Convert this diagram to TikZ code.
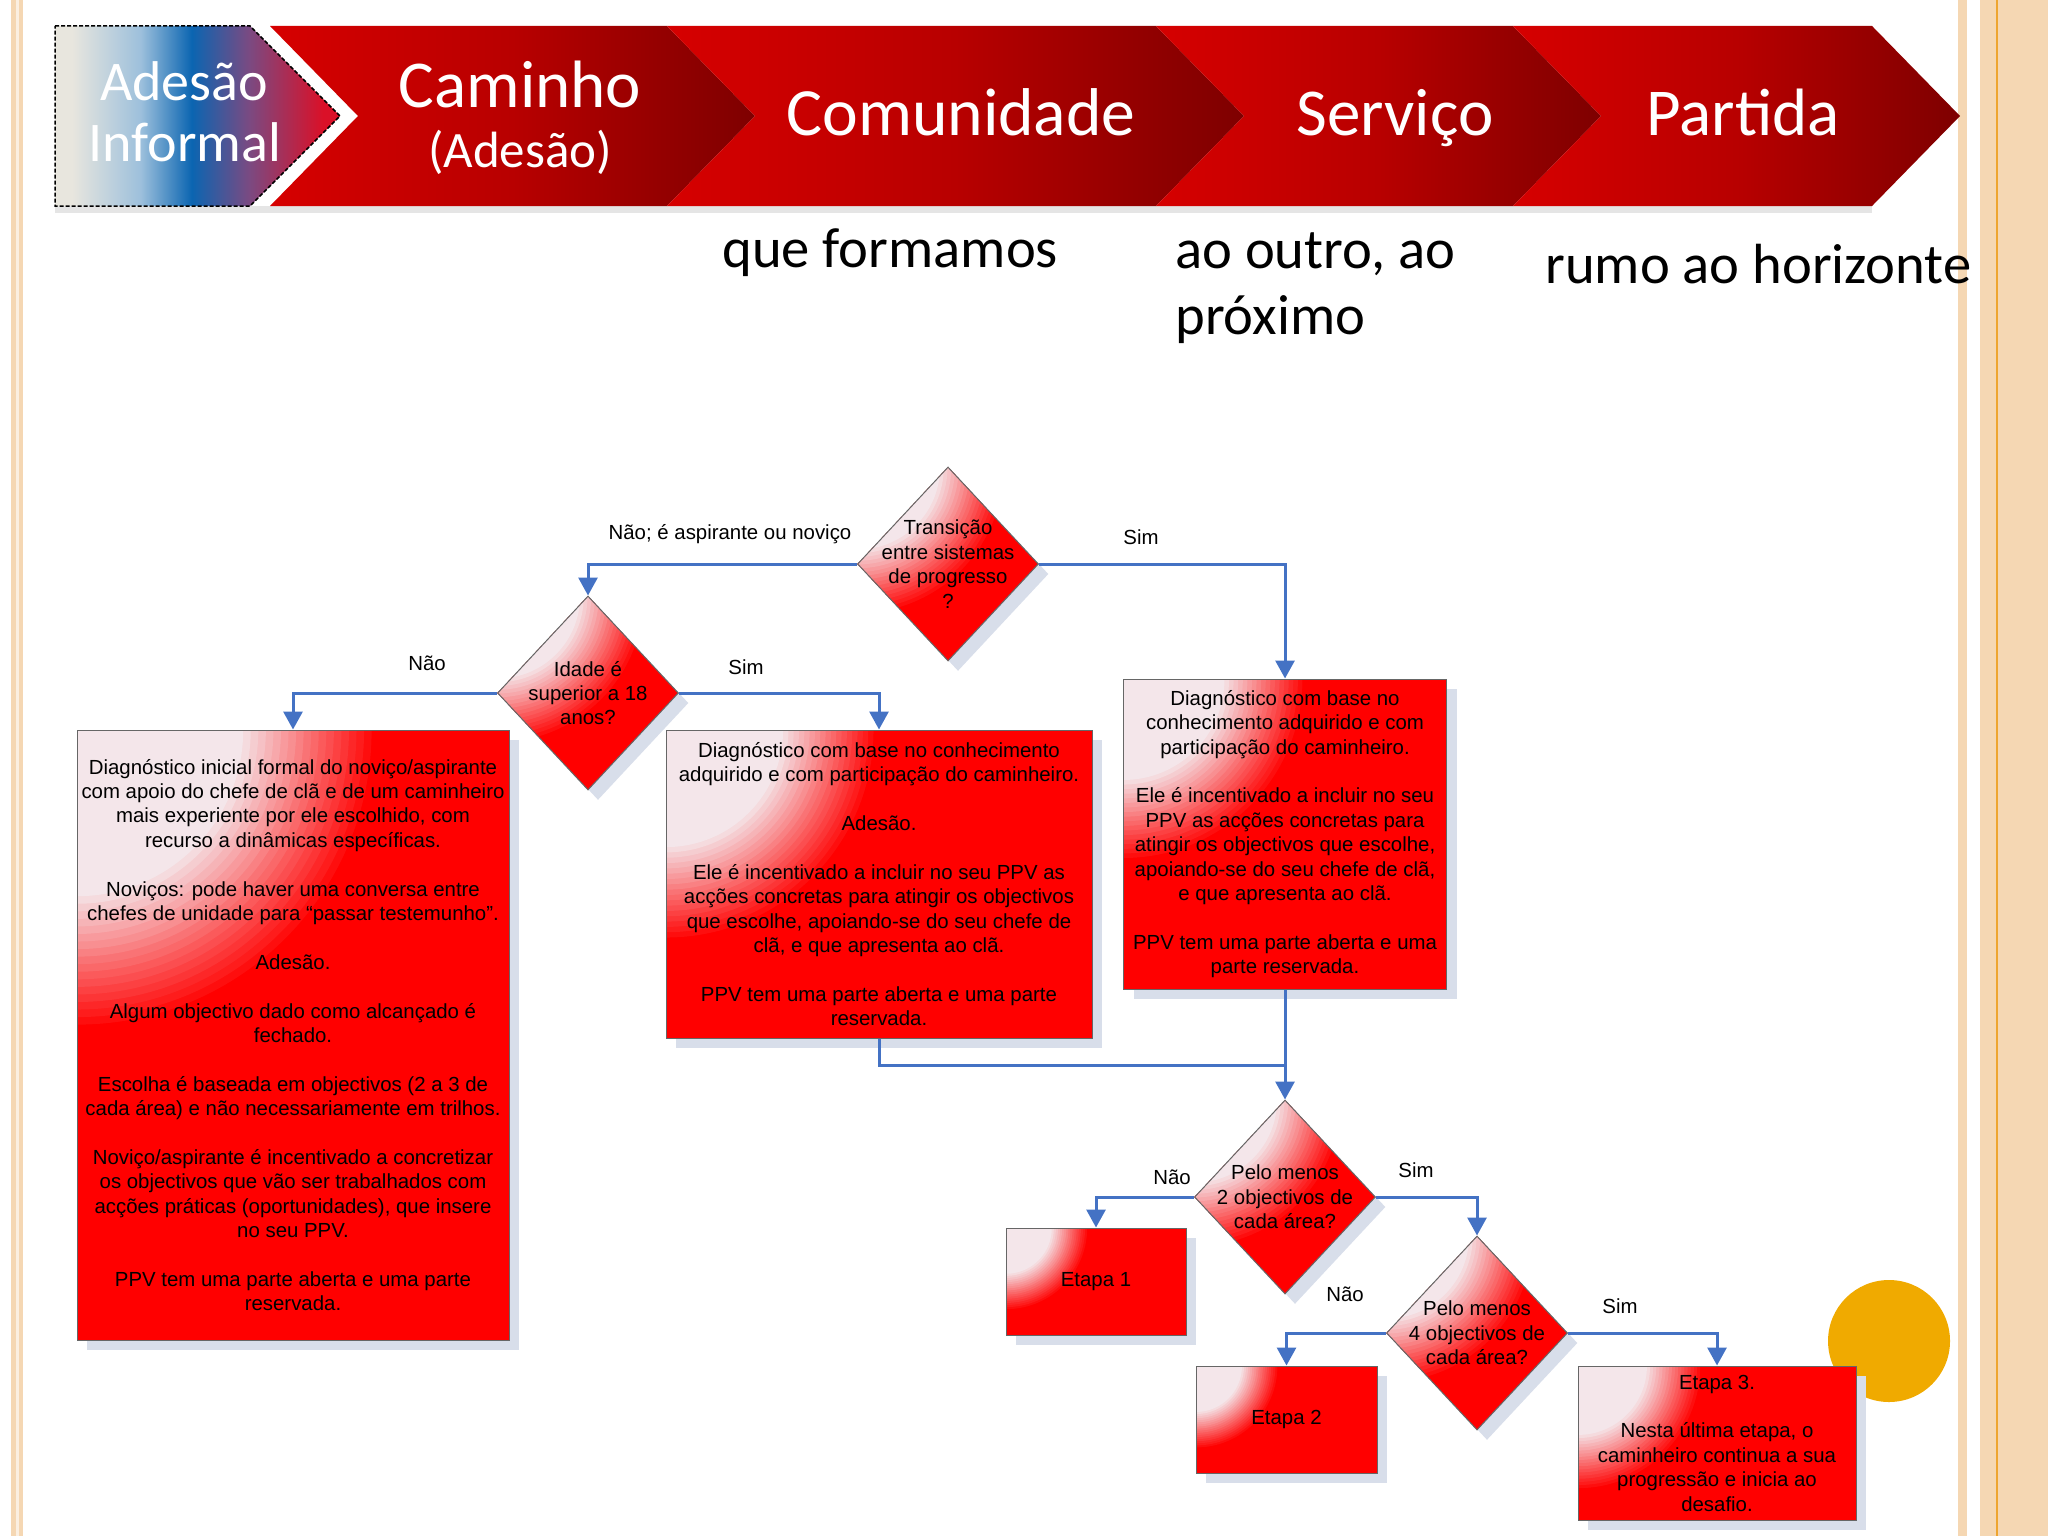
\documentclass[tikz,border=0pt]{standalone}
\usepackage{fontspec}
\setmainfont{Liberation Sans}
\newfontfamily\bannerfont{Carlito}
\usetikzlibrary{arrows.meta,shapes.geometric,shadows,calc}

\definecolor{flowblue}{HTML}{4472C4}
\definecolor{shadowblue}{HTML}{D8DEEA}
\definecolor{flowpale}{HTML}{F4E6EA}
\definecolor{flowred}{HTML}{FF0000}
\definecolor{bannerred}{HTML}{D60000}
\definecolor{bannermid}{HTML}{B80000}
\definecolor{bannerdark}{HTML}{7E0000}
\definecolor{edgetan}{HTML}{F5D7B3}
\definecolor{edgeorange}{HTML}{EEA530}
\definecolor{sunyellow}{HTML}{F0AA00}
\definecolor{informalgrey}{HTML}{E8E6DE}
\definecolor{informallight}{HTML}{9DC0DC}
\definecolor{informalblue}{HTML}{0B65B1}
\definecolor{informalpurple}{HTML}{7A4A82}
\definecolor{informalred}{HTML}{DA1028}

\pgfdeclarehorizontalshading{chevronshade}{100bp}{color(0bp)=(bannerred); color(25bp)=(bannerred); color(50bp)=(bannermid); color(75bp)=(bannerdark); color(100bp)=(bannerdark)}
\pgfdeclarehorizontalshading{informalshade}{100bp}{color(0bp)=(informalgrey); color(28bp)=(informalgrey); color(40bp)=(informallight); color(49bp)=(informalblue); color(59bp)=(informalpurple); color(72bp)=(informalred); color(100bp)=(informalred)}

\newcommand{\flowtext}{\fontsize{10.2pt}{12.2pt}\selectfont}

\begin{document}
\begin{tikzpicture}[
  x=0.5pt,
  y=-0.5pt,
  % pale glow in the top-left corner, red from there on
  glow/.style={path picture={
    \foreach \k in {0,...,39} {
      \pgfmathtruncatemacro{\glowpct}{max(0,min(100,(0.45-\k/40)/0.45*100))}
      \fill[flowred!\glowpct!flowpale] let \p1=(path picture bounding box.north west),
        \p2=(path picture bounding box.south east),
        \n1={#1*(\x2-\x1+\y1-\y2)*(1-\k/40)} in (\p1) circle[radius=\n1];
    }
  }},
  flowbox/.style={
    fill=flowred,
    glow=0.29,
    draw=black!60,
    line width=0.5pt,
    general shadow={fill=shadowblue, shadow xshift=5pt, shadow yshift=-5pt},
    align=center,
    inner sep=2pt,
    font=\flowtext
  },
  decision/.style={flowbox, glow=0.40, diamond, inner sep=0pt, minimum width=90.5pt, minimum height=97pt},
  decisiontext/.style={align=center, inner sep=0pt, font=\flowtext},
  branchlabel/.style={inner sep=0pt, font=\flowtext},
  flowline/.style={draw=flowblue, line width=1.5pt},
  flowarrow/.style={flowline, -{Triangle[width=9.5pt,length=9pt]}},
  chevron/.style={shade, shading=chevronshade},
  bannertext/.style={anchor=base, inner sep=0pt, text=white},
  motto/.style={anchor=base west, inner sep=0pt, font=\bannerfont\fontsize{28.3pt}{33pt}\selectfont}
]
  \useasboundingbox (0,0) rectangle (2048,1536);

  % page edges
  \fill[edgetan] (11,0) rectangle (23,1536);
  \fill[edgetan!40] (15.5,0) rectangle (18.5,1536);
  \fill[edgetan] (1958,0) rectangle (1967,1536);
  \fill[edgetan] (1980,0) rectangle (2048,1536);
  \fill[edgeorange] (1996,0) rectangle (1998,1536);

  % banner
  \fill[black!10] (55,206) rectangle (1872,213);
  \path[shade, shading=informalshade, draw=black, line width=0.75pt, dash pattern=on 2pt off 1pt]
    (55,26) -- (250,26) -- (340,116) -- (250,206) -- (55,206) -- cycle;
  \foreach \lft/\rgt in {270/667, 667/1156, 1156/1513, 1513/1872}
    \path[chevron] (\lft,26) -- (\rgt,26) -- ({\rgt+88},116) -- (\rgt,206)
      -- (\lft,206) -- ({\lft+88},116) -- cycle;

  \node[bannertext, font=\bannerfont\fontsize{28pt}{30pt}\selectfont] (informal1) at (184,100) {Adesão};
  \node[bannertext, font=\bannerfont\fontsize{28pt}{30pt}\selectfont] (informal2) at (185,162) {Informal};
  \node[bannertext, font=\bannerfont\fontsize{33.5pt}{36pt}\selectfont] (caminho) at (520,107) {Caminho};
  \node[bannertext, font=\bannerfont\fontsize{25.5pt}{28pt}\selectfont] (caminhoadesao) at (520,167) {(Adesão)};
  \node[bannertext, font=\bannerfont\fontsize{33.8pt}{36pt}\selectfont] (comunidade) at (961,135) {Comunidade};
  \node[bannertext, font=\bannerfont\fontsize{33.5pt}{36pt}\selectfont] (servico) at (1395,135) {Serviço};
  \node[bannertext, font=\bannerfont\fontsize{33.5pt}{36pt}\selectfont] (partida) at (1743,135) {Partida};

  \node[motto] (mottocom) at (722,267) {que formamos};
  \node[motto] (mottoserv1) at (1175,268) {ao outro, ao};
  \node[motto] (mottoserv2) at (1175,334) {próximo};
  \node[motto] (mottopart) at (1545,283) {rumo ao horizonte};

  % decoration
  \fill[sunyellow] (1889,1341) circle[radius=30.5pt];

  % flowchart
  \node[decision] (trans) at (948,564) {};
  \node[decisiontext] (transtxt) at (trans) {Transição\\entre sistemas\\de progresso\\?};

  \node[decision] (idade) at (588,693) {};
  \node[decisiontext] (idadetxt) at (idade) {Idade é\\superior a 18\\anos?};

  \node[flowbox, minimum width=216pt, minimum height=305pt] (diagi) at (293,1035)
    {Diagnóstico inicial formal do noviço/aspirante\\
     com apoio do chefe de clã e de um caminheiro\\
     mais experiente por ele escolhido, com\\
     recurso a dinâmicas específicas.\\[12.2pt]
     Noviços: pode haver uma conversa entre\\
     chefes de unidade para “passar testemunho”.\\[12.2pt]
     Adesão.\\[12.2pt]
     Algum objectivo dado como alcançado é\\
     fechado.\\[12.2pt]
     Escolha é baseada em objectivos (2 a 3 de\\
     cada área) e não necessariamente em trilhos.\\[12.2pt]
     Noviço/aspirante é incentivado a concretizar\\
     os objectivos que vão ser trabalhados com\\
     acções práticas (oportunidades), que insere\\
     no seu PPV.\\[12.2pt]
     PPV tem uma parte aberta e uma parte\\
     reservada.};

  \node[flowbox, minimum width=213pt, minimum height=154pt] (diagc) at (879,884)
    {Diagnóstico com base no conhecimento\\
     adquirido e com participação do caminheiro.\\[12.2pt]
     Adesão.\\[12.2pt]
     Ele é incentivado a incluir no seu PPV as\\
     acções concretas para atingir os objectivos\\
     que escolhe, apoiando-se do seu chefe de\\
     clã, e que apresenta ao clã.\\[12.2pt]
     PPV tem uma parte aberta e uma parte\\
     reservada.};

  \node[flowbox, minimum width=161.5pt, minimum height=155pt] (diagt) at (1285,834)
    {Diagnóstico com base no\\
     conhecimento adquirido e com\\
     participação do caminheiro.\\[12.2pt]
     Ele é incentivado a incluir no seu\\
     PPV as acções concretas para\\
     atingir os objectivos que escolhe,\\
     apoiando-se do seu chefe de clã,\\
     e que apresenta ao clã.\\[12.2pt]
     PPV tem uma parte aberta e uma\\
     parte reservada.};

  \node[decision] (obj2) at (1285,1197) {};
  \node[decisiontext] (obj2txt) at (obj2) {Pelo menos\\2 objectivos de\\cada área?};

  \node[decision] (obj4) at (1477,1333) {};
  \node[decisiontext] (obj4txt) at (obj4) {Pelo menos\\4 objectivos de\\cada área?};

  \node[flowbox, minimum width=90pt, minimum height=53.5pt] (etapa1) at (1096,1281.5) {Etapa 1};
  \node[flowbox, minimum width=90.5pt, minimum height=53.5pt] (etapa2) at (1286.5,1419.5) {Etapa 2};
  \node[flowbox, minimum width=139pt, minimum height=77pt] (etapa3) at (1717,1443)
    {Etapa 3.\\[12.2pt]
     Nesta última etapa, o\\
     caminheiro continua a sua\\
     progressão e inicia ao\\
     desafio.};

  \coordinate (merge) at (1285,1065);

  \draw[flowarrow] (trans.west) -| (idade.north);
  \draw[flowarrow] (trans.east) -| (diagt.north);
  \draw[flowarrow] (idade.west) -| (diagi.north);
  \draw[flowarrow] (idade.east) -| (diagc.north);
  \draw[flowline] (diagc.south) |- (merge);
  \draw[flowarrow] (diagt.south) -- (obj2.north);
  \draw[flowarrow] (obj2.west) -| (etapa1.north);
  \draw[flowarrow] (obj2.east) -| (obj4.north);
  \draw[flowarrow] (obj4.west) -| (etapa2.north);
  \draw[flowarrow] (obj4.east) -| (etapa3.north);

  \node[branchlabel] (lblnao1) at (730,534) {Não; é aspirante ou noviço};
  \node[branchlabel] (lblsim1) at (1141,537) {Sim};
  \node[branchlabel] (lblnao2) at (427,663) {Não};
  \node[branchlabel] (lblsim2) at (746,667) {Sim};
  \node[branchlabel] (lblnao3) at (1172,1177) {Não};
  \node[branchlabel] (lblsim3) at (1416,1170) {Sim};
  \node[branchlabel] (lblnao4) at (1345,1294) {Não};
  \node[branchlabel] (lblsim4) at (1620,1306) {Sim};
\end{tikzpicture}
\end{document}
